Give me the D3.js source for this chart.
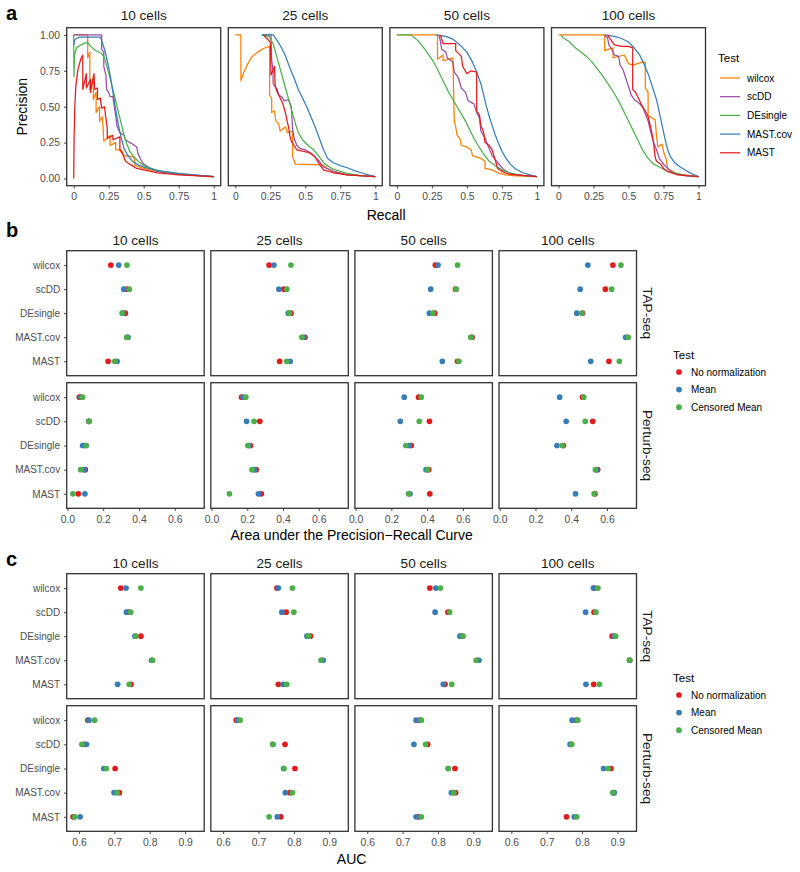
<!DOCTYPE html>
<html><head><meta charset="utf-8">
<script src="https://cdn.jsdelivr.net/npm/d3@7"></script>
<style>body{margin:0;background:#fff}svg{font-family:"Liberation Sans",Arial,sans-serif}</style>
</head><body><svg id="c" width="800" height="872"></svg>
<script>
// ---------------- DATA ----------------
const methods = ["wilcox","scDD","DEsingle","MAST.cov","MAST"];
const cellLabels = ["10 cells","25 cells","50 cells","100 cells"];
const datasets = ["TAP-seq","Perturb-seq"];
const normLabels = ["No normalization","Mean","Censored Mean"];
const prTicks = [0,0.25,0.5,0.75,1];
const prTickLabelsX = ["0","0.25","0.5","0.75","1"];
const prTickLabelsY = ["0.00","0.25","0.50","0.75","1.00"];
const auprTicks = [0,0.2,0.4,0.6];
const aucTicks = [0.6,0.7,0.8,0.9];

// precision-recall curves [recall, precision]
const pr_10_wilcox = [[0,1],[0.1,1],[0.1,0.84],[0.115,0.88],[0.115,0.62],[0.14,0.7],[0.14,0.55],[0.16,0.6],[0.16,0.46],[0.185,0.5],[0.185,0.4],[0.205,0.43],[0.215,0.26],[0.26,0.3],[0.26,0.23],[0.3,0.25],[0.3,0.2],[0.34,0.2],[0.36,0.16],[0.43,0.15],[0.44,0.09],[0.5,0.07],[0.6,0.05],[0.75,0.03],[1,0.012]];
const pr_10_scDD = [[0,1],[0.2,1],[0.2,0.9],[0.215,0.88],[0.215,0.78],[0.23,0.72],[0.235,0.62],[0.25,0.6],[0.26,0.57],[0.28,0.57],[0.29,0.5],[0.3,0.44],[0.31,0.36],[0.33,0.32],[0.36,0.3],[0.37,0.27],[0.4,0.25],[0.42,0.24],[0.45,0.22],[0.46,0.17],[0.48,0.13],[0.5,0.1],[0.55,0.07],[0.6,0.05],[0.75,0.03],[1,0.014]];
const pr_10_DEsingle = [[0,1],[0.002,0.71],[0.006,0.86],[0.02,0.91],[0.05,0.93],[0.1,0.95],[0.12,0.92],[0.16,0.89],[0.2,0.87],[0.22,0.84],[0.24,0.77],[0.26,0.7],[0.28,0.62],[0.3,0.54],[0.32,0.46],[0.34,0.38],[0.36,0.3],[0.38,0.24],[0.4,0.19],[0.43,0.15],[0.46,0.12],[0.5,0.09],[0.6,0.055],[0.75,0.03],[1,0.014]];
const pr_10_MASTcov = [[0,0.93],[0.01,0.97],[0.04,0.985],[0.19,0.985],[0.2,0.96],[0.22,0.9],[0.24,0.82],[0.26,0.72],[0.28,0.6],[0.3,0.48],[0.32,0.37],[0.34,0.28],[0.36,0.21],[0.38,0.17],[0.42,0.12],[0.46,0.095],[0.5,0.08],[0.6,0.055],[0.75,0.035],[1,0.014]];
const pr_10_MAST = [[0,0],[0.003,0.3],[0.008,0.5],[0.015,0.64],[0.03,0.76],[0.05,0.83],[0.065,0.86],[0.065,0.62],[0.09,0.73],[0.09,0.63],[0.12,0.69],[0.12,0.6],[0.145,0.73],[0.15,0.62],[0.17,0.63],[0.17,0.55],[0.19,0.56],[0.2,0.49],[0.22,0.5],[0.23,0.42],[0.24,0.35],[0.24,0.28],[0.28,0.3],[0.28,0.27],[0.33,0.29],[0.33,0.2],[0.35,0.17],[0.37,0.12],[0.4,0.1],[0.45,0.07],[0.5,0.06],[0.6,0.04],[0.75,0.025],[1,0.014]];

const pr_25_wilcox = [[0,1],[0.04,1],[0.04,0.68],[0.06,0.74],[0.09,0.8],[0.12,0.85],[0.16,0.88],[0.2,0.905],[0.245,0.92],[0.245,0.58],[0.26,0.56],[0.26,0.46],[0.28,0.47],[0.29,0.4],[0.31,0.38],[0.32,0.33],[0.36,0.36],[0.37,0.32],[0.41,0.33],[0.41,0.15],[0.43,0.1],[0.62,0.095],[0.66,0.07],[0.7,0.05],[0.8,0.025],[1,0.014]];
const pr_25_scDD = [[0.19,1],[0.255,1],[0.26,0.82],[0.27,0.75],[0.27,0.66],[0.3,0.62],[0.31,0.58],[0.33,0.57],[0.35,0.54],[0.38,0.55],[0.4,0.5],[0.41,0.34],[0.42,0.28],[0.44,0.23],[0.46,0.21],[0.5,0.2],[0.55,0.17],[0.6,0.12],[0.63,0.08],[0.7,0.05],[0.8,0.025],[1,0.014]];
const pr_25_DEsingle = [[0.19,1],[0.24,0.99],[0.27,0.94],[0.29,0.87],[0.31,0.8],[0.33,0.73],[0.35,0.66],[0.37,0.59],[0.39,0.52],[0.41,0.45],[0.43,0.38],[0.45,0.32],[0.48,0.27],[0.52,0.23],[0.56,0.2],[0.6,0.15],[0.64,0.1],[0.7,0.065],[0.8,0.035],[0.9,0.02],[1,0.014]];
const pr_25_MASTcov = [[0.19,1],[0.27,1],[0.3,0.96],[0.33,0.91],[0.36,0.85],[0.39,0.77],[0.42,0.7],[0.45,0.62],[0.48,0.56],[0.51,0.5],[0.54,0.43],[0.57,0.36],[0.6,0.28],[0.63,0.2],[0.66,0.14],[0.7,0.11],[0.75,0.09],[0.8,0.075],[0.85,0.055],[0.9,0.04],[0.95,0.025],[1,0.014]];
const pr_25_MAST = [[0.2,1],[0.22,0.98],[0.25,0.95],[0.255,0.72],[0.28,0.78],[0.285,0.64],[0.3,0.6],[0.32,0.56],[0.34,0.52],[0.36,0.45],[0.37,0.4],[0.38,0.36],[0.39,0.3],[0.4,0.26],[0.42,0.23],[0.44,0.2],[0.48,0.19],[0.53,0.18],[0.57,0.15],[0.6,0.1],[0.63,0.06],[0.7,0.04],[0.8,0.025],[1,0.014]];

const pr_50_wilcox = [[0,1],[0.29,1],[0.29,0.83],[0.33,0.86],[0.33,0.82],[0.4,0.84],[0.41,0.4],[0.42,0.36],[0.43,0.3],[0.45,0.28],[0.46,0.23],[0.5,0.22],[0.53,0.2],[0.54,0.16],[0.6,0.14],[0.63,0.12],[0.63,0.07],[0.68,0.06],[0.72,0.04],[0.78,0.025],[0.85,0.018],[1,0.014]];
const pr_50_scDD = [[0.3,1],[0.31,0.96],[0.32,0.9],[0.35,0.88],[0.36,0.84],[0.4,0.81],[0.41,0.74],[0.44,0.7],[0.46,0.63],[0.49,0.6],[0.51,0.54],[0.55,0.52],[0.57,0.46],[0.59,0.42],[0.6,0.33],[0.63,0.28],[0.65,0.23],[0.68,0.16],[0.72,0.11],[0.76,0.065],[0.8,0.04],[0.85,0.025],[1,0.014]];
const pr_50_DEsingle = [[0,1],[0.1,1],[0.15,0.96],[0.2,0.9],[0.25,0.83],[0.28,0.78],[0.31,0.72],[0.34,0.66],[0.37,0.6],[0.4,0.55],[0.43,0.5],[0.46,0.45],[0.49,0.4],[0.52,0.34],[0.55,0.28],[0.58,0.23],[0.62,0.17],[0.66,0.12],[0.7,0.09],[0.75,0.06],[0.8,0.04],[0.9,0.02],[1,0.014]];
const pr_50_MASTcov = [[0.28,1],[0.35,0.99],[0.4,0.97],[0.45,0.93],[0.5,0.88],[0.54,0.81],[0.57,0.74],[0.6,0.66],[0.62,0.58],[0.64,0.5],[0.66,0.43],[0.68,0.37],[0.7,0.31],[0.72,0.26],[0.75,0.19],[0.78,0.14],[0.81,0.1],[0.85,0.065],[0.9,0.04],[0.95,0.025],[1,0.014]];
const pr_50_MAST = [[0.31,1],[0.33,0.94],[0.42,0.94],[0.42,0.89],[0.46,0.85],[0.47,0.78],[0.5,0.73],[0.53,0.75],[0.57,0.74],[0.57,0.47],[0.59,0.44],[0.6,0.37],[0.62,0.32],[0.63,0.25],[0.66,0.23],[0.68,0.2],[0.7,0.135],[0.72,0.07],[0.75,0.05],[0.8,0.03],[1,0.014]];

const pr_100_wilcox = [[0,1],[0.33,1],[0.33,0.89],[0.39,0.91],[0.39,0.84],[0.47,0.86],[0.48,0.84],[0.5,0.8],[0.53,0.79],[0.6,0.81],[0.62,0.81],[0.62,0.63],[0.64,0.6],[0.64,0.44],[0.67,0.42],[0.69,0.41],[0.7,0.3],[0.71,0.22],[0.74,0.24],[0.75,0.19],[0.77,0.13],[0.78,0.07],[0.85,0.03],[1,0.014]];
const pr_100_scDD = [[0.33,1],[0.35,0.98],[0.36,0.93],[0.38,0.9],[0.4,0.86],[0.43,0.85],[0.44,0.79],[0.46,0.76],[0.48,0.7],[0.5,0.64],[0.52,0.58],[0.54,0.55],[0.57,0.53],[0.6,0.5],[0.62,0.45],[0.64,0.4],[0.66,0.32],[0.68,0.25],[0.7,0.2],[0.72,0.14],[0.75,0.1],[0.78,0.07],[0.82,0.04],[0.9,0.02],[1,0.014]];
const pr_100_DEsingle = [[0.02,1],[0.03,0.98],[0.05,0.97],[0.08,0.95],[0.12,0.91],[0.16,0.88],[0.2,0.85],[0.24,0.81],[0.28,0.76],[0.32,0.71],[0.36,0.65],[0.4,0.59],[0.44,0.52],[0.48,0.44],[0.52,0.36],[0.56,0.28],[0.6,0.2],[0.64,0.14],[0.68,0.1],[0.72,0.08],[0.78,0.05],[0.85,0.035],[0.92,0.02],[1,0.014]];
const pr_100_MASTcov = [[0.33,1],[0.4,0.99],[0.45,0.975],[0.5,0.95],[0.54,0.91],[0.58,0.86],[0.61,0.8],[0.64,0.73],[0.67,0.64],[0.7,0.55],[0.72,0.46],[0.74,0.37],[0.76,0.28],[0.78,0.2],[0.8,0.15],[0.83,0.11],[0.87,0.08],[0.92,0.05],[0.96,0.03],[1,0.014]];
const pr_100_MAST = [[0.35,1],[0.37,0.97],[0.4,0.93],[0.45,0.92],[0.5,0.92],[0.53,0.91],[0.53,0.62],[0.55,0.6],[0.57,0.56],[0.6,0.5],[0.62,0.47],[0.64,0.43],[0.66,0.35],[0.67,0.3],[0.68,0.24],[0.69,0.15],[0.7,0.12],[0.73,0.1],[0.75,0.07],[0.78,0.05],[0.85,0.025],[1,0.014]];

// AUPRC values per method: [No normalization, Mean, Censored Mean]
const auprTAP10 = [[0.243,0.287,0.333],[0.333,0.315,0.346],[0.324,0.311,0.306],[0.335,0.339,0.331],[0.228,0.278,0.265]];
const auprTAP25 = [[0.322,0.349,0.444],[0.405,0.377,0.421],[0.445,0.429,0.436],[0.523,0.516,0.505],[0.381,0.44,0.421]];
const auprTAP50 = [[0.446,0.461,0.57],[0.559,0.42,0.563],[0.443,0.413,0.433],[0.652,0.648,0.644],[0.57,0.485,0.578]];
const auprTAP100 = [[0.633,0.493,0.678],[0.591,0.45,0.626],[0.463,0.431,0.459],[0.714,0.704,0.719],[0.611,0.509,0.669]];
const auprPer10 = [[0.067,0.076,0.085],[0.119,0.121,0.122],[0.1,0.085,0.106],[0.1,0.093,0.074],[0.061,0.098,0.031]];
const auprPer25 = [[0.168,0.177,0.192],[0.27,0.196,0.238],[0.218,0.21,0.203],[0.25,0.24,0.226],[0.279,0.262,0.1]];
const auprPer50 = [[0.352,0.272,0.367],[0.413,0.25,0.356],[0.311,0.3,0.281],[0.409,0.394,0.402],[0.415,0.304,0.296]];
const auprPer100 = [[0.463,0.335,0.47],[0.52,0.372,0.478],[0.356,0.32,0.35],[0.548,0.54,0.535],[0.533,0.424,0.528]];

// AUC values per method: [No normalization, Mean, Censored Mean]
const aucTAP10 = [[0.718,0.733,0.775],[0.74,0.734,0.746],[0.775,0.758,0.76],[0.807,0.805,0.808],[0.747,0.709,0.742]];
const aucTAP25 = [[0.752,0.756,0.796],[0.778,0.766,0.8],[0.847,0.837,0.842],[0.88,0.883,0.877],[0.756,0.77,0.78]];
const aucTAP50 = [[0.777,0.794,0.807],[0.828,0.792,0.833],[0.866,0.862,0.871],[0.912,0.916,0.908],[0.82,0.815,0.839]];
const aucTAP100 = [[0.835,0.832,0.845],[0.834,0.81,0.839],[0.885,0.89,0.895],[0.935,0.934,0.935],[0.833,0.811,0.849]];
const aucPer10 = [[0.625,0.628,0.644],[0.614,0.621,0.608],[0.702,0.67,0.677],[0.714,0.699,0.708],[0.583,0.603,0.588]];
const aucPer25 = [[0.637,0.641,0.648],[0.775,0.741,0.74],[0.803,0.771,0.772],[0.789,0.776,0.796],[0.763,0.753,0.73]];
const aucPer50 = [[0.748,0.738,0.753],[0.771,0.732,0.765],[0.848,0.829,0.829],[0.85,0.838,0.845],[0.745,0.738,0.753]];
const aucPer100 = [[0.784,0.772,0.788],[0.768,0.766,0.771],[0.882,0.861,0.874],[0.889,0.891,0.887],[0.756,0.778,0.785]];

// ---------------- STYLE / LAYOUT ----------------
const methodColors = ["#FF7F00","#984EA3","#4DAF4A","#377EB8","#E41A1C"];
const normColors = ["#E41A1C","#377EB8","#4DAF4A"];
const BORDER = "#333333", TICKTXT = "#4D4D4D";

const prCurves = [
  [pr_10_wilcox,pr_10_scDD,pr_10_DEsingle,pr_10_MASTcov,pr_10_MAST],
  [pr_25_wilcox,pr_25_scDD,pr_25_DEsingle,pr_25_MASTcov,pr_25_MAST],
  [pr_50_wilcox,pr_50_scDD,pr_50_DEsingle,pr_50_MASTcov,pr_50_MAST],
  [pr_100_wilcox,pr_100_scDD,pr_100_DEsingle,pr_100_MASTcov,pr_100_MAST]
];
const auprGrid = [[auprTAP10,auprTAP25,auprTAP50,auprTAP100],[auprPer10,auprPer25,auprPer50,auprPer100]];
const aucGrid = [[aucTAP10,aucTAP25,aucTAP50,aucTAP100],[aucPer10,aucPer25,aucPer50,aucPer100]];

const svg = d3.select("#c");
const colsA = [66.7,228.3,389.9,551.5], wA = 154, topA = 27.7, botA = 185.7;
const colsBC = [66.7,210.8,354.9,499], wBC = 137.5;

function styleAxis(g, fs){
  g.select(".domain").remove();
  g.selectAll(".tick line").attr("stroke",BORDER).attr("stroke-width",0.9);
  g.selectAll(".tick text").attr("fill",TICKTXT).attr("font-size",fs).attr("font-family","Liberation Sans, Arial, sans-serif");
}
function strip(x, y, txt){
  svg.append("text").attr("x",x).attr("y",y).attr("text-anchor","middle")
    .attr("dominant-baseline","central").attr("font-size",13.6).attr("fill","#1a1a1a").text(txt);
}
function rstrip(x, y, txt){
  svg.append("text").attr("transform",`translate(${x},${y}) rotate(90)`).attr("text-anchor","middle")
    .attr("dominant-baseline","central").attr("font-size",13.6).attr("fill","#1a1a1a").text(txt);
}
function border(x0,y0,w,h){
  svg.append("rect").attr("x",x0).attr("y",y0).attr("width",w).attr("height",h)
    .attr("fill","none").attr("stroke",BORDER).attr("stroke-width",1.3);
}
function panelLabel(x,y,t){
  svg.append("text").attr("x",x).attr("y",y).attr("font-size",20).attr("font-weight","bold").attr("fill","#000").text(t);
}

// ---------------- PANEL A ----------------
panelLabel(6,20,"a");
prCurves.forEach((curves, i) => {
  const x = d3.scaleLinear().domain([-0.05,1.05]).range([colsA[i], colsA[i]+wA]);
  const y = d3.scaleLinear().domain([-0.05,1.05]).range([botA, topA]);
  const line = d3.line().x(d => x(d[0])).y(d => y(d[1]));
  const g = svg.append("g");
  curves.forEach((c, m) => {
    g.append("path").attr("d", line(c)).attr("fill","none").attr("stroke",methodColors[m])
      .attr("stroke-width",1.25).attr("stroke-linejoin","round");
  });
  border(colsA[i], topA, wA, botA-topA);
  const ax = svg.append("g").attr("transform",`translate(0,${botA})`)
    .call(d3.axisBottom(x).tickValues(prTicks).tickFormat((d,k)=>prTickLabelsX[k]).tickSize(2.75).tickPadding(4.3));
  styleAxis(ax, 10.4);
  if (i === 0){
    const ay = svg.append("g").attr("transform",`translate(${colsA[0]},0)`)
      .call(d3.axisLeft(y).tickValues(prTicks).tickFormat((d,k)=>prTickLabelsY[k]).tickSize(2.75).tickPadding(3.8));
    styleAxis(ay, 10.4);
  }
  strip(colsA[i]+wA/2, 15, cellLabels[i]);
});
svg.append("text").attr("x",(colsA[0]+colsA[3]+wA)/2).attr("y",215).attr("text-anchor","middle")
  .attr("dominant-baseline","central").attr("font-size",14).text("Recall");
svg.append("text").attr("transform",`translate(22,${(topA+botA)/2}) rotate(-90)`).attr("text-anchor","middle")
  .attr("dominant-baseline","central").attr("font-size",14).text("Precision");
// legend a
svg.append("text").attr("x",718).attr("y",58).attr("dominant-baseline","central").attr("font-size",11.5).text("Test");
methods.forEach((m,k) => {
  const yy = 78 + k*18.7;
  svg.append("line").attr("x1",720).attr("x2",740).attr("y1",yy).attr("y2",yy)
    .attr("stroke",methodColors[k]).attr("stroke-width",1.25);
  svg.append("text").attr("x",747).attr("y",yy).attr("dominant-baseline","central").attr("font-size",10).text(m);
});

// ---------------- DOT PANELS (B, C) ----------------
function dotPanel(grid, rows, domain, ticks, fmt, titleY, title, stripY, legendTop){
  grid.forEach((rowData, r) => {
    const [t, b] = rows[r];
    const y = d3.scalePoint().domain(methods).range([t, b]).padding(0.6);
    rowData.forEach((vals, i) => {
      const x = d3.scaleLinear().domain(domain).range([colsBC[i], colsBC[i]+wBC]);
      const g = svg.append("g");
      vals.forEach((v, m) => {
        v.forEach((val, n) => {
          g.append("circle").attr("cx", x(val)).attr("cy", y(methods[m])).attr("r",2.85)
            .attr("fill", normColors[n]);
        });
      });
      border(colsBC[i], t, wBC, b-t);
      if (r === 1){
        const ax = svg.append("g").attr("transform",`translate(0,${b})`)
          .call(d3.axisBottom(x).tickValues(ticks).tickFormat(fmt).tickSize(2.75).tickPadding(4.3));
        styleAxis(ax, 10.4);
      }
      if (i === 0){
        const ay = svg.append("g").attr("transform",`translate(${colsBC[0]},0)`)
          .call(d3.axisLeft(y).tickSize(2.75).tickPadding(3.8));
        styleAxis(ay, 10);
      }
      if (r === 0) strip(colsBC[i]+wBC/2, stripY, cellLabels[i]);
    });
    rstrip(647, (t+b)/2, datasets[r]);
  });
  svg.append("text").attr("x",(colsBC[0]+colsBC[3]+wBC)/2).attr("y",titleY).attr("text-anchor","middle")
    .attr("dominant-baseline","central").attr("font-size",14).text(title);
  svg.append("text").attr("x",673).attr("y",legendTop).attr("dominant-baseline","central").attr("font-size",11.5).text("Test");
  normLabels.forEach((l,k) => {
    const yy = legendTop + 17 + k*17.6;
    svg.append("circle").attr("cx",679).attr("cy",yy).attr("r",2.85).attr("fill",normColors[k]);
    svg.append("text").attr("x",691).attr("y",yy).attr("dominant-baseline","central").attr("font-size",10).text(l);
  });
}
panelLabel(6,237,"b");
dotPanel(auprGrid, [[250.7,375.7],[382.7,508.3]], [-0.004,0.765], auprTicks, d3.format(".1f"),
  535, "Area under the Precision\u2212Recall Curve", 240, 355);
panelLabel(6,566,"c");
dotPanel(aucGrid, [[573.7,698.7],[705.7,831.3]], [0.565,0.954], aucTicks, d3.format(".1f"),
  859, "AUC", 563, 678);
</script></body></html>
